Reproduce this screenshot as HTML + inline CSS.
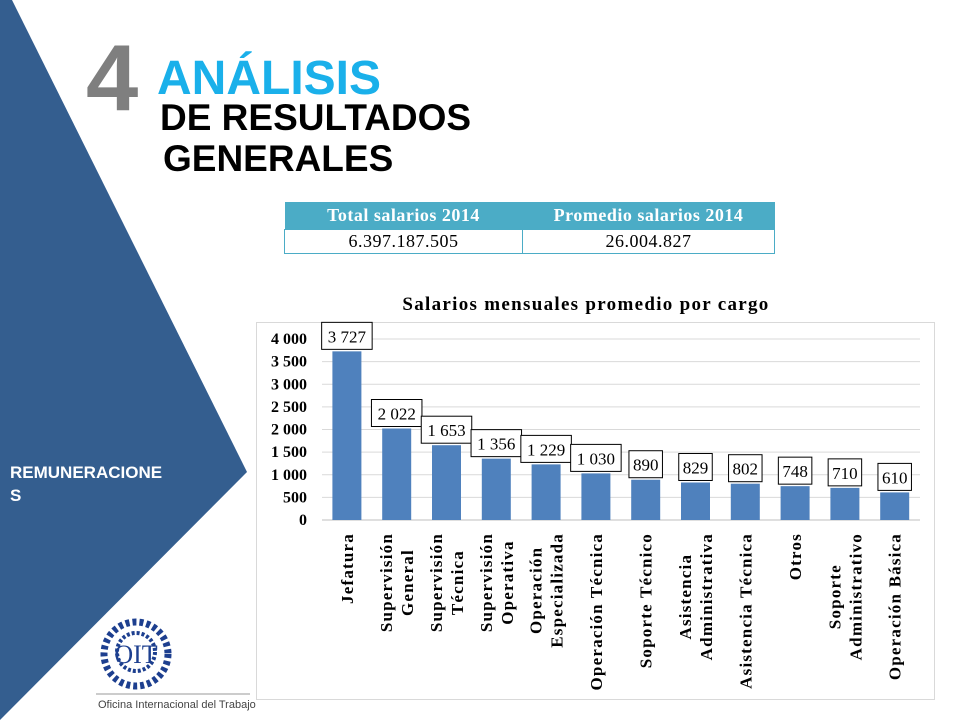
<!DOCTYPE html>
<html><head><meta charset="utf-8">
<style>
body{margin:0;width:960px;height:720px;overflow:hidden;background:#fff;font-family:"Liberation Sans",sans-serif;position:relative}
.abs{position:absolute}
</style></head><body>
<svg class="abs" style="left:0;top:0" width="960" height="720">
  <polygon points="0,0 12,0 247,472 0,720" fill="#345e8f"/>
  <text x="10" y="478" font-family="Liberation Sans" font-weight="bold" font-size="17" fill="#fff">REMUNERACIONE</text>
  <text x="10" y="501" font-family="Liberation Sans" font-weight="bold" font-size="17" fill="#fff">S</text>
  <text x="86" y="110" font-family="Liberation Sans" font-weight="bold" font-size="94" fill="#7f7f7f">4</text>
  <text x="157" y="94" font-family="Liberation Sans" font-weight="bold" font-size="48" fill="#1ab0ea">ANÁLISIS</text>
  <text x="160" y="130" font-family="Liberation Sans" font-weight="bold" font-size="37" fill="#000">DE RESULTADOS</text>
  <text x="163" y="171" font-family="Liberation Sans" font-weight="bold" font-size="37" fill="#000">GENERALES</text>
  <g>
    <circle cx="136" cy="654" r="32" fill="none" stroke="#1d3f8f" stroke-width="7" stroke-dasharray="4 3"/>
    <circle cx="136" cy="652" r="19" fill="none" stroke="#1d3f8f" stroke-width="4" stroke-dasharray="3 2"/>
    <text x="136" y="663" text-anchor="middle" font-family="Liberation Serif" font-size="26" fill="#1d3f8f">OIT</text>
    <line x1="96" y1="694" x2="250" y2="694" stroke="#999" stroke-width="1"/>
    <text x="98" y="708" font-family="Liberation Sans" font-size="11" fill="#444">Oficina Internacional del Trabajo</text>
  </g>
</svg>

<table class="abs" style="left:284px;top:202px;border-collapse:collapse;font-family:'Liberation Serif',serif;font-size:18px">
  <tr style="background:#4bacc6;color:#fff;font-weight:bold;height:27px">
    <th style="width:238px;padding:0;letter-spacing:0.5px">Total salarios 2014</th>
    <th style="width:252px;padding:0;letter-spacing:0.5px">Promedio salarios 2014</th>
  </tr>
  <tr style="height:24px">
    <td style="text-align:center;border:1px solid #4bacc6;padding:0;letter-spacing:0.5px">6.397.187.505</td>
    <td style="text-align:center;border:1px solid #4bacc6;padding:0;letter-spacing:0.5px">26.004.827</td>
  </tr>
</table>

<svg id="chart" class="abs" style="left:0;top:0" width="960" height="720"></svg>
<script>
const categories=[["Jefatura"],["Supervisión","General"],["Supervisión","Técnica"],["Supervisión","Operativa"],["Operación","Especializada"],["Operación Técnica"],["Soporte Técnico"],["Asistencia","Administrativa"],["Asistencia Técnica"],["Otros"],["Soporte","Administrativo"],["Operación Básica"]];
const values=[3727,2022,1653,1356,1229,1030,890,829,802,748,710,610];
const valueLabels=["3 727","2 022","1 653","1 356","1 229","1 030","890","829","802","748","710","610"];
const ticks=[0,500,1000,1500,2000,2500,3000,3500,4000];
const tickLabels=["0","500","1 000","1 500","2 000","2 500","3 000","3 500","4 000"];

const NS="http://www.w3.org/2000/svg";
const svg=document.getElementById('chart');
const y0=520,yTop=339,vMax=4000;
const y=v=>y0-(v/vMax)*(y0-yTop);
const x0=322,step=49.8;
const xc=i=>x0+step*(i+0.5);
function mk(t,a,p){const e=document.createElementNS(NS,t);for(const k in a)e.setAttribute(k,a[k]);(p||svg).appendChild(e);return e;}

const frame=mk('rect',{x:256.5,y:322.5,width:678,height:377,fill:'none',stroke:'#d9d9d9'});


const title=mk('text',{x:586,y:310,'text-anchor':'middle','font-family':'Liberation Serif','font-weight':'bold','font-size':19,'letter-spacing':1.3,fill:'#000'});
title.textContent='Salarios mensuales promedio por cargo';



ticks.forEach((t,i)=>{
  const g=mk('line',{x1:x0,x2:920,y1:y(t),y2:y(t),stroke:t===0?'#bfbfbf':'#d9d9d9'});
  
  
  const l=mk('text',{x:307,y:y(t)+5,'text-anchor':'end','font-family':'Liberation Serif','font-weight':'bold','font-size':16,fill:'#000'});
  l.textContent=tickLabels[i];
  
  
});

values.forEach((v,i)=>{
  const bw=29;
  const b=mk('rect',{x:xc(i)-bw/2,y:y(v),width:bw,height:y0-y(v),fill:'#4f81bd'});
  
  
  const txt=valueLabels[i];
  const w=txt.length*8.5+8;
  const by=y(v)-29;
  const box=mk('rect',{x:xc(i)-w/2,y:by,width:w,height:27,fill:'#fff',stroke:'#000'});
  
  
  const t=mk('text',{x:xc(i),y:by+20,'text-anchor':'middle','font-family':'Liberation Serif','font-size':17,fill:'#000'});
  t.textContent=txt;
  
  

  const lines=categories[i];
  const g=mk('g',{});
  
  
  const els=lines.map((ln,j)=>{
    const dx=(j-(lines.length-1)/2)*21;
    const e=mk('text',{'text-anchor':'middle','font-family':'Liberation Serif','font-weight':'bold','font-size':17,'letter-spacing':1.2,fill:'#000'},g);
    e.textContent=ln;
    e._dx=dx;return e;
  });
  const maxLen=Math.max(...els.map(e=>e.getComputedTextLength()));
  const cy=533+maxLen/2;
  els.forEach(e=>{
    const cx=xc(i)+e._dx+6;
    e.setAttribute('transform','translate('+cx+','+cy+') rotate(-90)');
  });
});
</script>
</body></html>
